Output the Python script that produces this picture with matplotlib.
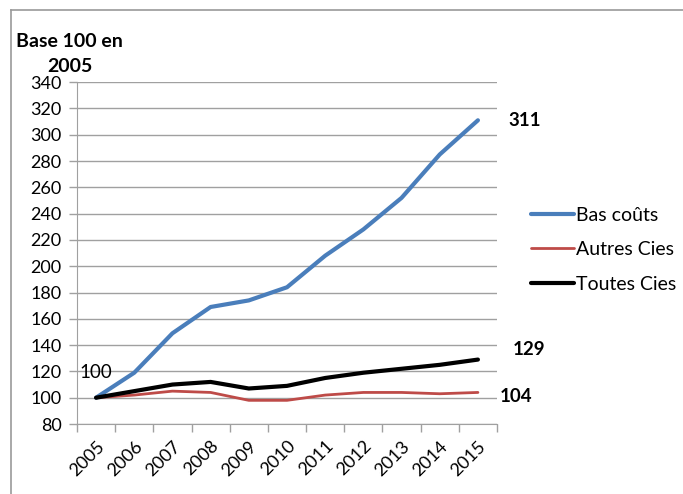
import numpy as np
import matplotlib
matplotlib.use("Agg")
import matplotlib.pyplot as plt
from matplotlib.lines import Line2D

plt.rcParams['font.family'] = ['Lato', 'DejaVu Sans']

years = ['2005', '2006', '2007', '2008', '2009', '2010',
         '2011', '2012', '2013', '2014', '2015']
bas_couts = [100, 119, 149, 169, 174, 184, 208, 228, 252, 285, 311]
autres_cies = [100, 102, 105, 104, 98, 98, 102, 104, 104, 103, 104]
toutes_cies = [100, 105, 110, 112, 107, 109, 115, 119, 122, 125, 129]

fig = plt.figure(figsize=(6.83, 4.94), dpi=100)
ax = fig.add_axes([0.1127, 0.1417, 0.615, 0.692])

x = np.arange(len(years))
ax.plot(x, bas_couts, color='#4a7ebb', lw=3, label='Bas coûts', solid_capstyle='round')
ax.plot(x, autres_cies, color='#be4b48', lw=2, label='Autres Cies', solid_capstyle='round')
ax.plot(x, toutes_cies, color='black', lw=3, label='Toutes Cies', solid_capstyle='round')

ax.set_xlim(-0.5, len(years) - 0.5)
ax.set_ylim(80, 340)
ax.set_yticks(np.arange(80, 341, 20))
ax.set_xticks(x)
ax.set_xticklabels(years, rotation=45, ha='right', rotation_mode='anchor')
ax.set_xticks(np.arange(-0.5, len(years), 1), minor=True)
ax.tick_params(axis='x', which='major', length=0, pad=10, labelsize=13)
ax.tick_params(axis='x', which='minor', length=6, color='#a0a0a0', width=1)
ax.tick_params(axis='y', length=6, color='#a0a0a0', width=1, pad=5, labelsize=13)
ax.grid(axis='y', color='#a0a0a0', lw=1)
ax.set_axisbelow(True)
for s in ['top', 'right']:
    ax.spines[s].set_visible(False)
ax.spines['left'].set_color('#a0a0a0')
ax.spines['bottom'].set_color('#a0a0a0')

ax.text(0, 119.5, '100', fontsize=13.5, ha='center', va='center')
ax.annotate('311', (10, bas_couts[-1]), xytext=(22, 0), textcoords='offset points',
            fontsize=13.5, fontweight='bold', va='center', annotation_clip=False)
ax.annotate('129', (10, toutes_cies[-1]), xytext=(25, 7), textcoords='offset points',
            fontsize=13.5, fontweight='bold', va='center', annotation_clip=False)
ax.annotate('104', (10, autres_cies[-1]), xytext=(16, -3), textcoords='offset points',
            fontsize=13.5, fontweight='bold', va='center', annotation_clip=False)

ax.legend(loc='center left', bbox_to_anchor=(1.04, 0.51), frameon=False,
          fontsize=14, handlelength=2.2, handletextpad=0.1, labelspacing=0.9)

fig.text(0.102, 0.915, 'Base 100 en', fontsize=14, fontweight='bold', ha='center', va='center')
fig.text(0.102, 0.866, '2005', fontsize=14, fontweight='bold', ha='center', va='center')

# frame around the picture
fig.add_artist(Line2D([0.016, 0.016], [0, 0.98], color='#9a9a9a', lw=1.2, transform=fig.transFigure))
fig.add_artist(Line2D([0.016, 1], [0.98, 0.98], color='#9a9a9a', lw=1.2, transform=fig.transFigure))

fig.savefig('out.png', dpi=100)
